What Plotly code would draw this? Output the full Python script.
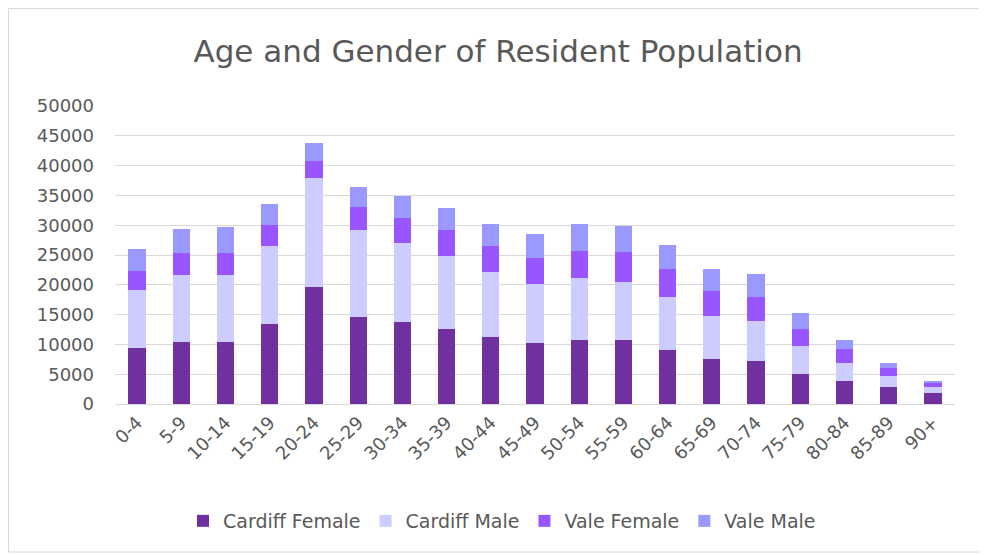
import plotly.graph_objects as go

age_groups = ["0-4", "5-9", "10-14", "15-19", "20-24", "25-29", "30-34", "35-39",
              "40-44", "45-49", "50-54", "55-59", "60-64", "65-69", "70-74", "75-79",
              "80-84", "85-89", "90+"]
cardiff_female = [9400, 10450, 10450, 13400, 19700, 14550, 13700, 12600, 11300, 10200,
                  10750, 10750, 9050, 7500, 7200, 5050, 3900, 2900, 1800]
cardiff_male = [9700, 11150, 11150, 13100, 18200, 14650, 13350, 12250, 10800, 9950,
                10350, 9800, 8950, 7250, 6800, 4600, 3050, 1800, 1000]
vale_female = [3300, 3800, 3800, 3500, 2900, 3800, 4100, 4400, 4400, 4400,
               4550, 5000, 4600, 4200, 4000, 3000, 2250, 1300, 650]
vale_male = [3600, 4000, 4350, 3550, 3050, 3450, 3750, 3700, 3700, 3950,
             4550, 4300, 4100, 3650, 3800, 2700, 1550, 950, 450]
y_ticks = [0, 5000, 10000, 15000, 20000, 25000, 30000, 35000, 40000, 45000, 50000]
y_tick_labels = [str(v) for v in y_ticks]

series = [
    ("Cardiff Female", cardiff_female, "#7030A0"),
    ("Cardiff Male", cardiff_male, "#CCCCFF"),
    ("Vale Female", vale_female, "#9955FF"),
    ("Vale Male", vale_male, "#9999FF"),
]

fig = go.Figure()
for name, vals, color in series:
    fig.add_trace(go.Bar(x=age_groups, y=vals, name=name, marker_color=color,
                         marker_line_width=0))

font_family = "DejaVu Sans, sans-serif"
W, H = 979, 547
L, R, T, B = 107, 32, 98, 151
PW, PH = W - L - R, H - T - B
fig.update_layout(
    barmode="stack",
    bargap=0.61,
    width=W, height=H,
    margin=dict(l=L, r=R, t=T, b=B),
    paper_bgcolor="white",
    plot_bgcolor="white",
    font=dict(family=font_family, color="#595959", size=18),
    title=dict(text="Age and Gender of Resident Population", x=490 / W,
               xanchor="center", y=1 - 43 / H, yanchor="middle",
               font=dict(size=31, color="#595959", family=font_family)),
    legend=dict(orientation="h", x=(502 - 8 - L) / PW, xanchor="center",
                y=-(521 - 8 - T - PH) / PH, yanchor="middle",
                font=dict(size=19, color="#595959"), itemwidth=30,
                traceorder="normal"),
    showlegend=True,
)
fig.update_yaxes(range=[0, 50000], tickvals=y_ticks, ticktext=y_tick_labels,
                 showgrid=True, gridcolor="#D9D9D9",
                 gridwidth=1, zeroline=False, showline=False, ticks="",
                 tickfont=dict(size=18, color="#595959"), ticklabelstandoff=20)
fig.update_xaxes(tickangle=-45, showline=True, linecolor="#D9D9D9", linewidth=1,
                 ticks="", tickfont=dict(size=18, color="#595959"))
fig.add_shape(type="rect", xref="paper", yref="paper",
              x0=(0.5 - L) / PW, x1=(973 - L) / PW,
              y0=-(544 - T - PH) / PH, y1=1 + (T - 0.5) / PH,
              line=dict(color="#D9D9D9", width=1), fillcolor="rgba(0,0,0,0)", layer="below")

fig.write_html("out.html")
